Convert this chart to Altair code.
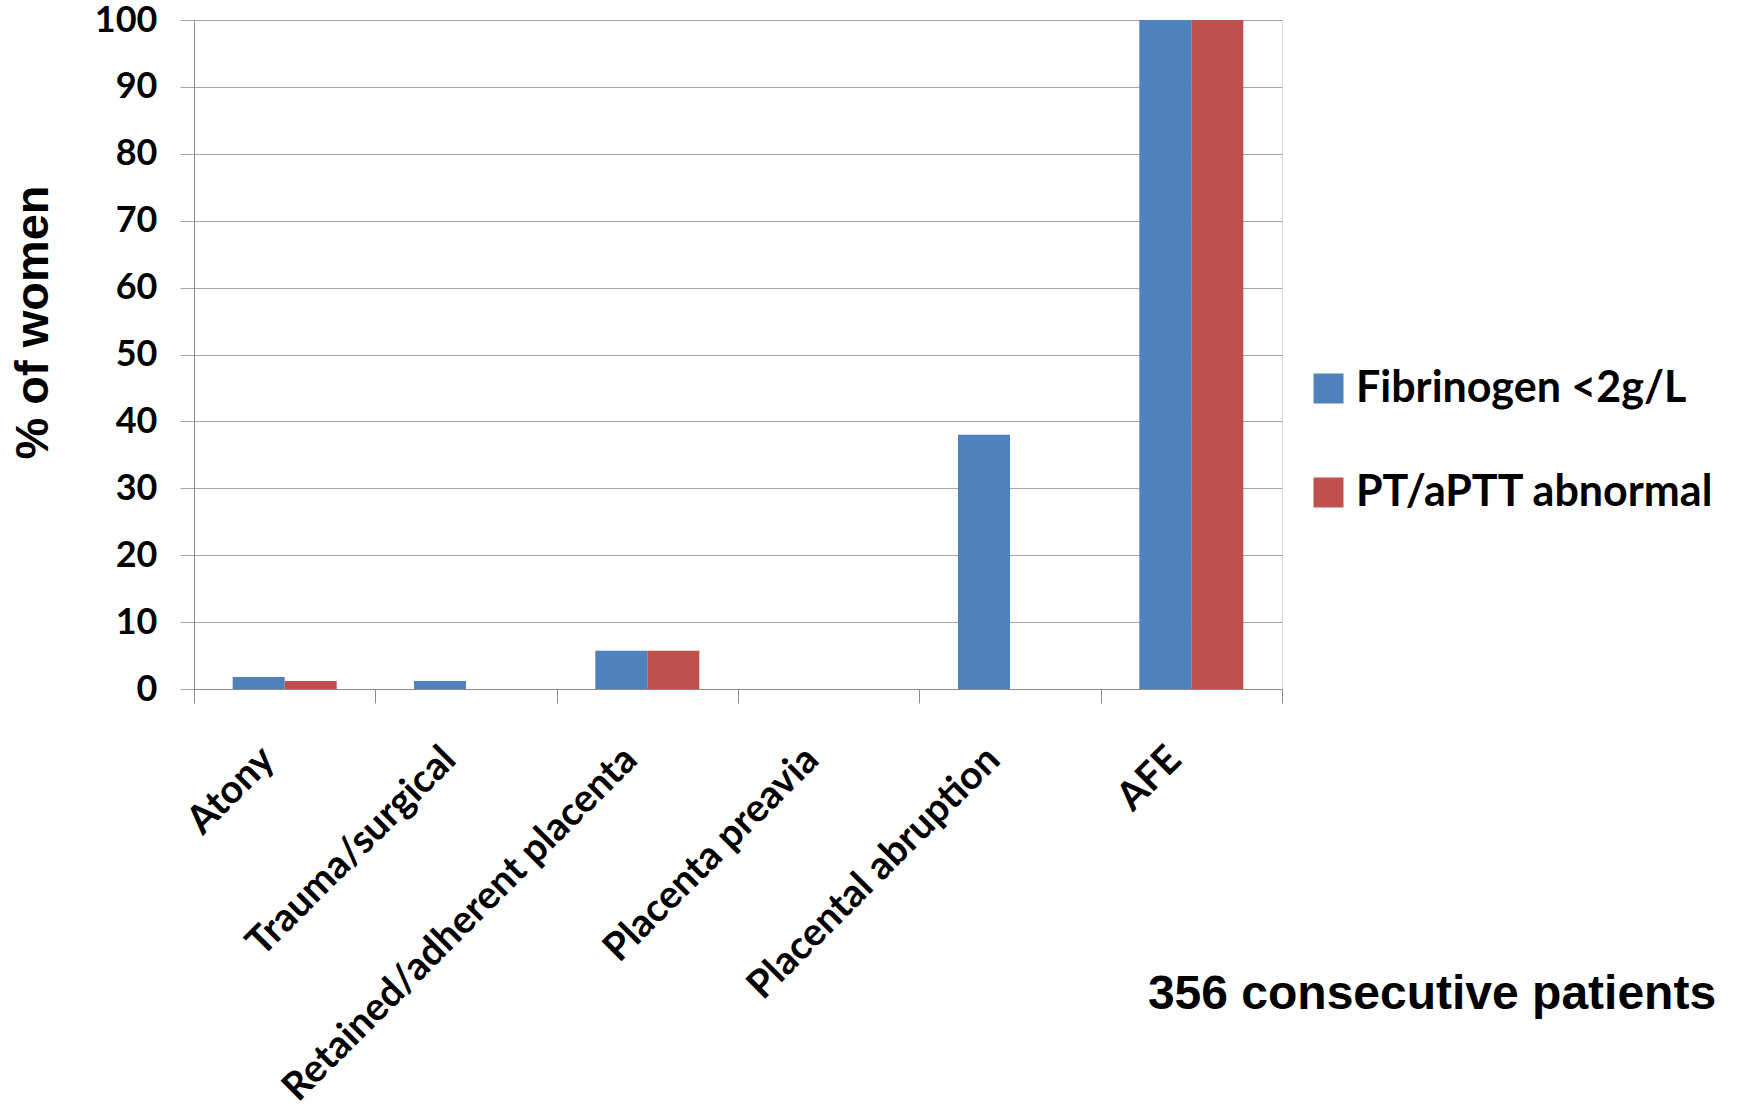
import altair as alt
import pandas as pd

# Causes of haemorrhage and share of women with coagulation abnormalities
categories = [
    "Atony",
    "Trauma/surgical",
    "Retained/adherent placenta",
    "Placenta preavia",
    "Placental abruption",
    "AFE",
]
fibrinogen_low = [1.8, 1.2, 5.7, 0.0, 38.0, 100.0]
pt_aptt_abnormal = [1.2, 0.0, 5.7, 0.0, 0.0, 100.0]
series_names = ["Fibrinogen <2g/L", "PT/aPTT abnormal"]
series_colors = ["#4F81BD", "#C0504D"]
y_ticks = [0, 10, 20, 30, 40, 50, 60, 70, 80, 90, 100]
footnote = "356 consecutive patients"

rows = []
for cat, a, b in zip(categories, fibrinogen_low, pt_aptt_abnormal):
    rows.append({"cause": cat, "series": series_names[0], "pct": a})
    rows.append({"cause": cat, "series": series_names[1], "pct": b})
df = pd.DataFrame(rows)

LABEL_FONT = "Lato"
GRID = "#a6a6a6"
AXIS = "#8c8c8c"

bars = alt.Chart(df).mark_bar().encode(
    x=alt.X(
        "cause:N",
        sort=categories,
        scale=alt.Scale(paddingInner=0, paddingOuter=0),
        axis=alt.Axis(
            title=None,
            labelAngle=-45,
            labelAlign="right",
            labelBaseline="middle",
            labelFont=LABEL_FONT,
            labelFontWeight="bold",
            labelFontSize=39,
            labelColor="black",
            labelPadding=50,
            labelOffset=-17,
            tickBand="extent",
            tickSize=14,
            tickColor=AXIS,
            domainColor=AXIS,
            grid=False,
            labelLimit=1000,
        ),
    ),
    xOffset=alt.XOffset(
        "series:N",
        sort=series_names,
        scale=alt.Scale(paddingInner=0, paddingOuter=0.7435),
    ),
    y=alt.Y(
        "pct:Q",
        scale=alt.Scale(domain=[0, 100], nice=False),
        axis=alt.Axis(
            title="% of women",
            titleFont="Liberation Sans",
            titleFontWeight="bold",
            titleFontSize=47,
            titleColor="black",
            titleX=-161,
            titleY=302,
            titleAlign="center",
            titleBaseline="middle",
            titleAngle=-90,
            values=y_ticks,
            labelFont=LABEL_FONT,
            labelFontWeight="bold",
            labelFontSize=36,
            labelColor="black",
            labelPadding=23,
            tickSize=14,
            tickColor=GRID,
            domainColor=AXIS,
            gridColor=GRID,
        ),
    ),
    color=alt.Color(
        "series:N",
        sort=series_names,
        scale=alt.Scale(domain=series_names, range=series_colors),
        legend=alt.Legend(
            title=None,
            orient="none",
            legendX=1113,
            legendY=347,
            symbolType="square",
            symbolSize=900,
            symbolStrokeWidth=0,
            labelFont=LABEL_FONT,
            labelFontWeight="bold",
            labelFontSize=43,
            labelColor="black",
            labelOffset=6,
            rowPadding=60,
            labelLimit=1000,
        ),
    ),
)

note = alt.Chart(pd.DataFrame({"t": [footnote]})).mark_text(
    font="Liberation Sans",
    fontWeight="bold",
    fontSize=48,
    color="black",
    align="center",
    baseline="middle",
).encode(text="t:N", x=alt.value(1238), y=alt.value(975))

chart = (
    alt.layer(bars, note)
    .properties(
        width=1088,
        height=669,
        autosize=alt.AutoSizeParams(type="none"),
        padding={"left": 194, "top": 20, "right": 461, "bottom": 419},
    )
    .configure_view(stroke=None)
    .configure(background="white")
)

chart.save("out.html", embed_options={"renderer": "svg", "actions": False})
